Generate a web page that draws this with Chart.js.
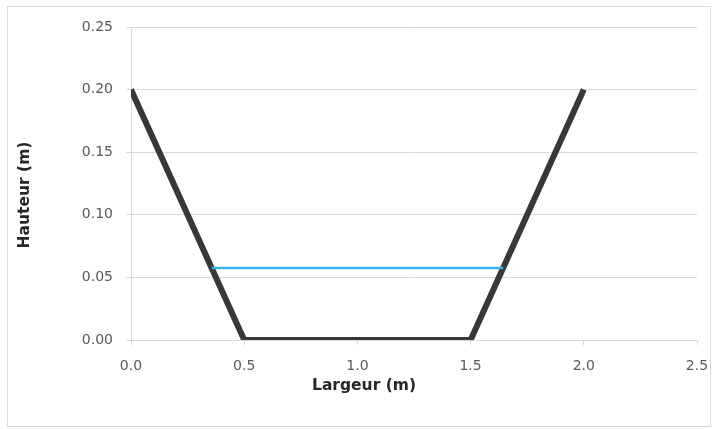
<!DOCTYPE html>
<html>
<head>
<meta charset="utf-8">
<script src="https://cdn.jsdelivr.net/npm/chart.js@4"></script>
<style>
  html,body{margin:0;padding:0;background:#fff;}
  #wrap{width:713px;height:429px;position:relative;}
</style>
</head>
<body>
<div id="wrap"><canvas id="chart"></canvas></div>
<script>
// profil du canal (berges + fond)
const bankX=[0,0.5,1.5,2.0];
const bankY=[0.20,0.00,0.00,0.20];
// niveau d'eau
const waterX=[0.356,1.644];
const waterY=[0.0575,0.0575];
const xTicks=[0,0.5,1.0,1.5,2.0,2.5];
const yTicks=[0,0.05,0.10,0.15,0.20,0.25];
const xTitle="Largeur (m)", yTitle="Hauteur (m)";

const pts=(xs,ys)=>xs.map((x,i)=>({x,y:ys[i]}));
const GRID="#d9d9d9", TXT="#595959", FONT="'DejaVu Sans'";

const frame={id:"frame",beforeDraw(c){const g=c.ctx;g.save();g.fillStyle="#fff";g.fillRect(0,0,c.width,c.height);
  g.strokeStyle="#d9d9d9";g.lineWidth=1;g.strokeRect(7.5,6.5,703,420);g.restore();}};

// titres d'axes placés comme dans l'original (pas centrés sur l'axe)
const titles={id:"titles",afterDraw(c){const g=c.ctx;g.save();
  g.fillStyle="#262626";g.font="bold 15.5px "+FONT;g.textAlign="center";g.textBaseline="middle";
  g.fillText(xTitle,364,386);
  g.translate(25,195);g.rotate(-Math.PI/2);g.fillText(yTitle,0,0);
  g.restore();}};

new Chart(document.getElementById("chart"),{
  type:"scatter",
  data:{datasets:[
    {label:"Canal",data:pts(bankX,bankY),showLine:true,borderColor:"#383838",borderWidth:6,pointRadius:0,borderJoinStyle:"miter",borderCapStyle:"butt",order:2},
    {label:"Eau",data:pts(waterX,waterY),showLine:true,borderColor:"#35b5e9",borderWidth:2.5,pointRadius:0,order:1}
  ]},
  options:{
    responsive:true,maintainAspectRatio:false,animation:false,
    layout:{padding:{left:0,right:16,top:27,bottom:0}},
    plugins:{legend:{display:false},tooltip:{enabled:false}},
    scales:{
      x:{type:"linear",min:0,max:2.5,
        afterBuildTicks:a=>{a.ticks=xTicks.map(v=>({value:v}));},
        afterFit:a=>{a.paddingRight=0;a.paddingLeft=0;a.height=89;},
        ticks:{color:TXT,font:{family:FONT,size:14},padding:13,callback:v=>v.toFixed(1)},
        grid:{drawOnChartArea:false,drawTicks:true,tickLength:5,color:GRID},
        border:{color:GRID}},
      y:{type:"linear",min:0,max:0.25,
        afterBuildTicks:a=>{a.ticks=yTicks.map(v=>({value:v}));},
        afterFit:a=>{a.width=131;},
        ticks:{color:TXT,font:{family:FONT,size:14},padding:13,callback:v=>v.toFixed(2)},
        grid:{color:GRID,tickLength:5},
        border:{color:GRID}}
    }
  },
  plugins:[frame,titles]
});
</script>
</body>
</html>
